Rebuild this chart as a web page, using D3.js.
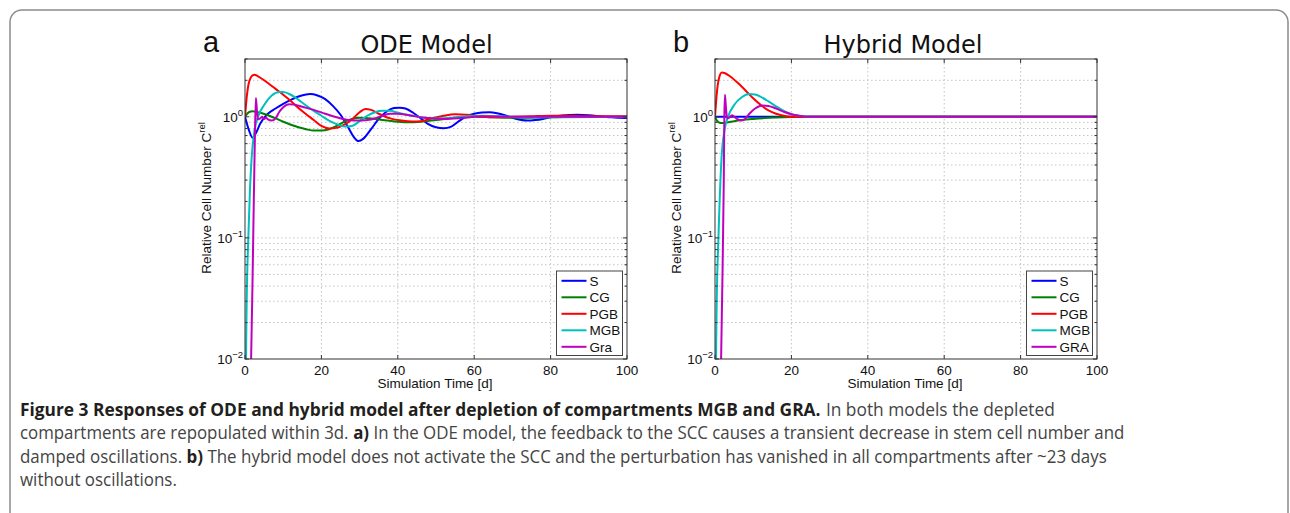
<!DOCTYPE html>
<html>
<head>
<meta charset="utf-8">
<script src="https://cdn.jsdelivr.net/npm/d3@7"></script>
<style>
  html, body { margin: 0; padding: 0; background: #fff; }
  svg { display: block; }
</style>
</head>
<body>
<svg id="fig" width="1290" height="513"></svg>
<script>
// ---- axis ticks ----
const xTicks = [0, 20, 40, 60, 80, 100];
const yTicks = [0.01, 0.1, 1];
const yTickExp = ["\u22122", "\u22121", "0"];
const seriesNames = ["S", "CG", "PGB", "MGB", "Gra"];
const seriesNamesHybrid = ["S", "CG", "PGB", "MGB", "GRA"];
const seriesColors = ["#0000ff", "#008000", "#ff0000", "#00bfbf", "#bf00bf"];

// ---- ODE model (panel a): time [d] and relative cell numbers ----
const odeS_t  = [0, 1, 2, 3, 4, 5, 6, 8, 10, 12, 14, 16, 17, 19, 21, 23, 25, 27, 28.5, 29.7, 31, 33, 35, 37, 39, 40.5, 42, 44, 46, 48, 50, 52, 54, 56, 58, 60, 62, 64, 66, 68, 70, 72, 74, 76, 78, 80, 83, 87, 90, 93, 96, 100];
const odeS_v  = [1.0, 0.78, 0.67, 0.75, 0.88, 0.98, 1.06, 1.17, 1.28, 1.38, 1.47, 1.53, 1.54, 1.50, 1.40, 1.23, 1.04, 0.82, 0.68, 0.63, 0.66, 0.79, 0.96, 1.10, 1.18, 1.19, 1.17, 1.08, 0.97, 0.87, 0.82, 0.805, 0.83, 0.92, 1.01, 1.06, 1.085, 1.09, 1.07, 1.03, 0.98, 0.945, 0.93, 0.94, 0.96, 0.99, 1.025, 1.04, 1.03, 1.01, 0.99, 0.975];

const odeCG_t = [0, 1, 2, 4, 6, 8, 10, 12, 14, 16, 18, 20, 22, 24, 26, 28, 30, 33, 36, 40, 43, 46, 50, 55, 60, 65, 70, 80, 90, 100];
const odeCG_v = [1.0, 1.09, 1.11, 1.08, 1.03, 0.97, 0.91, 0.86, 0.82, 0.79, 0.77, 0.77, 0.79, 0.84, 0.91, 0.96, 0.98, 0.97, 0.94, 0.91, 0.90, 0.91, 0.94, 0.98, 1.0, 0.99, 0.98, 0.99, 1.0, 1.0];

const odePGB_t = [0, 0.5, 1, 2, 2.5, 4, 6, 8, 10, 12, 14, 16, 18, 20, 22, 24, 26, 28, 30, 31.5, 33, 35, 38, 41, 44, 46, 49, 52, 55, 58, 62, 66, 70, 75, 80, 85, 90, 100];
const odePGB_v = [1.0, 1.5, 1.9, 2.2, 2.22, 2.1, 1.9, 1.7, 1.52, 1.35, 1.18, 1.05, 0.94, 0.84, 0.80, 0.81, 0.86, 0.95, 1.09, 1.16, 1.14, 1.06, 0.97, 0.93, 0.915, 0.92, 0.97, 1.02, 1.05, 1.04, 1.0, 0.99, 1.0, 1.01, 1.02, 1.02, 1.01, 1.01];

const odeMGB_t = [0, 0.26, 0.44, 0.87, 1.3, 1.7, 2.5, 3.4, 5, 7, 9, 10, 12, 14, 16, 18, 20, 22, 24, 26, 28, 30, 32, 34, 36, 38, 40, 43, 46, 50, 54, 58, 62, 70, 80, 100];
const odeMGB_v = [0.003, 0.01, 0.03, 0.1, 0.25, 0.44, 0.78, 1.0, 1.25, 1.5, 1.6, 1.6, 1.52, 1.38, 1.24, 1.12, 1.02, 0.93, 0.87, 0.83, 0.84, 0.92, 1.02, 1.09, 1.12, 1.12, 1.08, 1.03, 0.99, 0.97, 0.98, 1.01, 1.02, 1.0, 0.99, 1.0];

const odeGra_t = [0, 1.2, 1.6, 2.0, 2.3, 2.6, 2.85, 3.1, 3.4, 4, 4.5, 5, 5.5, 6, 7, 8, 9, 10, 11.5, 13, 15, 18, 21, 24, 27, 30, 33, 36, 38, 40, 43, 47, 52, 57, 62, 70, 100];
const odeGra_v = [0.0001, 0.004, 0.01, 0.05, 0.2, 0.7, 1.43, 1.15, 0.95, 0.97, 1.0, 0.96, 0.98, 0.95, 0.93, 0.97, 1.1, 1.2, 1.27, 1.26, 1.21, 1.14, 1.06, 0.99, 0.94, 0.93, 0.95, 1.02, 1.06, 1.06, 1.03, 0.98, 0.96, 0.98, 1.01, 1.0, 1.0];

// ---- Hybrid model (panel b) ----
const hybS_t  = [0, 100];
const hybS_v  = [1.0, 1.0];

const hybCG_t = [0, 0.5, 1, 1.8, 3, 5, 7, 10, 13, 16, 20, 25, 100];
const hybCG_v = [1.0, 0.93, 0.9, 0.887, 0.895, 0.92, 0.94, 0.96, 0.975, 0.985, 0.995, 1.0, 1.0];

const hybPGB_t = [0, 0.5, 1, 1.8, 2.5, 4, 6, 8, 10, 12, 14, 16, 18, 20, 22, 25, 100];
const hybPGB_v = [1.0, 1.6, 2.05, 2.32, 2.3, 2.15, 1.9, 1.65, 1.42, 1.25, 1.13, 1.06, 1.02, 1.0, 0.995, 1.0, 1.0];

const hybMGB_t = [0, 0.26, 0.45, 0.9, 1.7, 2.5, 3.4, 5, 7, 9, 10.5, 12, 14, 16, 18, 20, 22, 25, 100];
const hybMGB_v = [0.003, 0.01, 0.03, 0.1, 0.45, 0.78, 1.0, 1.25, 1.45, 1.54, 1.53, 1.46, 1.34, 1.22, 1.12, 1.05, 1.02, 1.0, 1.0];

const hybGRA_t = [0, 1.2, 1.6, 2.0, 2.3, 2.45, 2.6, 2.9, 3.2, 3.8, 4.5, 5.2, 6, 7, 8, 9, 10.5, 12.5, 14, 16, 18, 20, 22, 24, 100];
const hybGRA_v = [0.0001, 0.004, 0.01, 0.06, 0.3, 1.0, 1.52, 1.15, 0.97, 0.99, 1.03, 0.99, 0.95, 0.93, 0.97, 1.06, 1.17, 1.24, 1.23, 1.17, 1.1, 1.05, 1.02, 1.0, 1.0];

const panels = [
  {
    letter: "a", title: "ODE Model", left: 245, titleX: 426.5, names: seriesNames,
    series: [[odeS_t, odeS_v], [odeCG_t, odeCG_v], [odePGB_t, odePGB_v], [odeMGB_t, odeMGB_v], [odeGra_t, odeGra_v]]
  },
  {
    letter: "b", title: "Hybrid Model", left: 715, titleX: 903, names: seriesNamesHybrid,
    series: [[hybS_t, hybS_v], [hybCG_t, hybCG_v], [hybPGB_t, hybPGB_v], [hybMGB_t, hybMGB_v], [hybGRA_t, hybGRA_v]]
  }
];

const svg = d3.select("#fig");

// figure frame with rounded top corners
svg.append("path")
  .attr("d", "M10,513 V22 A12,12 0 0 1 22,10 H1276 A12,12 0 0 1 1288,22 V513")
  .attr("fill", "none")
  .attr("stroke", "#8a8b8d")
  .attr("stroke-width", 1.5);

const plotW = 382, plotTop = 59, plotBottom = 359;
const axisFont = "'Liberation Sans', Arial, Helvetica, sans-serif";

// minor log ticks (2..9 within each decade, plus up to 3 above 1)
const yMinor = [];
[0.01, 0.1, 1].forEach(d => { for (let k = 2; k <= 9; k++) { const v = d * k; if (v <= 3.0001) yMinor.push(v); } });

panels.forEach((p, pi) => {
  const x = d3.scaleLinear().domain([0, 100]).range([p.left, p.left + plotW]);
  const y = d3.scaleLog().domain([0.01, 3]).range([plotBottom, plotTop]);
  const g = svg.append("g");

  const clipId = "clip" + pi;
  svg.append("clipPath").attr("id", clipId)
    .append("rect").attr("x", p.left).attr("y", plotTop).attr("width", plotW).attr("height", plotBottom - plotTop);

  // dotted grid
  const grid = g.append("g").attr("stroke", "#c4c4c4").attr("stroke-width", 1).attr("stroke-dasharray", "1.5,2.5");
  xTicks.slice(1, -1).forEach(t => {
    grid.append("line").attr("x1", x(t)).attr("x2", x(t)).attr("y1", plotTop).attr("y2", plotBottom);
  });
  yTicks.concat(yMinor).forEach(v => {
    if (v <= 0.01 || v >= 3) return;
    grid.append("line").attr("x1", p.left).attr("x2", p.left + plotW).attr("y1", y(v)).attr("y2", y(v));
  });

  // curves
  const line = d3.line()
    .x(d => x(d[0]))
    .y(d => y(d[1]))
    .curve(d3.curveMonotoneX);
  const curves = g.append("g").attr("clip-path", `url(#${clipId})`);
  p.series.forEach((s, i) => {
    const pts = s[0].map((t, k) => [t, s[1][k]]);
    curves.append("path")
      .attr("d", line(pts))
      .attr("fill", "none")
      .attr("stroke", seriesColors[i])
      .attr("stroke-width", 2)
      .attr("stroke-linejoin", "round");
  });

  // axes box
  g.append("rect")
    .attr("x", p.left).attr("y", plotTop).attr("width", plotW).attr("height", plotBottom - plotTop)
    .attr("fill", "none").attr("stroke", "#333").attr("stroke-width", 1);

  const ticks = g.append("g").attr("stroke", "#333").attr("stroke-width", 1);
  xTicks.forEach(t => {
    ticks.append("line").attr("x1", x(t)).attr("x2", x(t)).attr("y1", plotBottom).attr("y2", plotBottom - 4);
    ticks.append("line").attr("x1", x(t)).attr("x2", x(t)).attr("y1", plotTop).attr("y2", plotTop + 4);
  });
  yTicks.forEach(v => {
    ticks.append("line").attr("x1", p.left).attr("x2", p.left + 4).attr("y1", y(v)).attr("y2", y(v));
    ticks.append("line").attr("x1", p.left + plotW).attr("x2", p.left + plotW - 4).attr("y1", y(v)).attr("y2", y(v));
  });
  yMinor.forEach(v => {
    ticks.append("line").attr("x1", p.left).attr("x2", p.left + 2.5).attr("y1", y(v)).attr("y2", y(v));
    ticks.append("line").attr("x1", p.left + plotW).attr("x2", p.left + plotW - 2.5).attr("y1", y(v)).attr("y2", y(v));
  });

  // x tick labels
  xTicks.forEach(t => {
    g.append("text").attr("x", x(t)).attr("y", 375)
      .attr("text-anchor", "middle")
      .attr("font-family", axisFont).attr("font-size", 13.5).attr("fill", "#111")
      .text(t);
  });
  // y tick labels 10^n
  yTicks.forEach((v, i) => {
    const tx = g.append("text").attr("x", p.left - 2).attr("y", y(v) + 5)
      .attr("text-anchor", "end")
      .attr("font-family", axisFont).attr("font-size", 13.5).attr("fill", "#111");
    tx.append("tspan").text("10");
    tx.append("tspan").attr("font-size", 9.5).attr("dy", -6).text(yTickExp[i]);
  });

  // axis titles
  g.append("text").attr("x", p.left + plotW / 2 - 1).attr("y", 388)
    .attr("text-anchor", "middle")
    .attr("font-family", axisFont).attr("font-size", 13.5).attr("fill", "#111")
    .text("Simulation Time [d]");
  const yl = g.append("text")
    .attr("transform", `translate(${p.left - 34},${198}) rotate(-90)`)
    .attr("text-anchor", "middle")
    .attr("font-family", axisFont).attr("font-size", 13.5).attr("fill", "#111");
  yl.append("tspan").text("Relative Cell Number C");
  yl.append("tspan").attr("font-size", 9.5).attr("dy", -6).text("rel");

  // panel title and letter
  g.append("text").attr("x", p.titleX).attr("y", 53)
    .attr("text-anchor", "middle")
    .attr("font-family", "'DejaVu Sans', sans-serif").attr("font-size", 24).attr("fill", "#111")
    .text(p.title);
  g.append("text").attr("x", p.left - 42).attr("y", 52)
    .attr("font-family", axisFont).attr("font-size", 29).attr("fill", "#111")
    .text(p.letter);

  // legend
  const lx = p.left + plotW - 70.5, ly = 271, lw = 66, lh = 84.5;
  const lg = g.append("g");
  lg.append("rect").attr("x", lx).attr("y", ly).attr("width", lw).attr("height", lh)
    .attr("fill", "#fff").attr("stroke", "#444").attr("stroke-width", 1);
  p.names.forEach((n, i) => {
    const yy = ly + 9.8 + i * 16.5;
    lg.append("line").attr("x1", lx + 5).attr("x2", lx + 30).attr("y1", yy).attr("y2", yy)
      .attr("stroke", seriesColors[i]).attr("stroke-width", 2);
    lg.append("text").attr("x", lx + 33).attr("y", yy + 4.8)
      .attr("font-family", axisFont).attr("font-size", 13.5).attr("fill", "#111")
      .text(n);
  });
});

// caption: runs are laid out one after another, then each full line is
// condensed horizontally as a whole to its column width; the short last
// line reuses the condensing of the line above it
const capFont = "'Open Sans', 'Noto Sans', sans-serif";
const capSize = 17.5;
const captionLines = [
  { width: 1035, runs: [["b", "Figure 3 Responses of ODE and hybrid model after depletion of compartments MGB and GRA."], ["r", "In both models the depleted"]] },
  { width: 1105, runs: [["r", "compartments are repopulated within 3d."], ["b", "a)"], ["r", "In the ODE model, the feedback to the SCC causes a transient decrease in stem cell number and"]] },
  { width: 1087, runs: [["r", "damped oscillations."], ["b", "b)"], ["r", "The hybrid model does not activate the SCC and the perturbation has vanished in all compartments after ~23 days"]] },
  { width: null, runs: [["r", "without oscillations."]] }
];
const spaceW = 0.26 * capSize;
let lastScale = 1;
captionLines.forEach((ln, i) => {
  const lineG = svg.append("g");
  let cx = 0;
  ln.runs.forEach(([w, s]) => {
    const t = lineG.append("text")
      .attr("x", cx).attr("y", 0)
      .attr("font-family", capFont).attr("font-size", capSize)
      .attr("font-weight", w === "b" ? 700 : 400)
      .attr("fill", w === "b" ? "#231f20" : "#444")
      .text(s);
    cx += t.node().getComputedTextLength() + spaceW;
  });
  const natural = cx - spaceW;
  const sx = ln.width ? ln.width / natural : lastScale;
  lastScale = sx;
  lineG.attr("transform", `translate(20,${415.5 + i * 23.6}) scale(${sx},1)`);
});
</script>
</body>
</html>
